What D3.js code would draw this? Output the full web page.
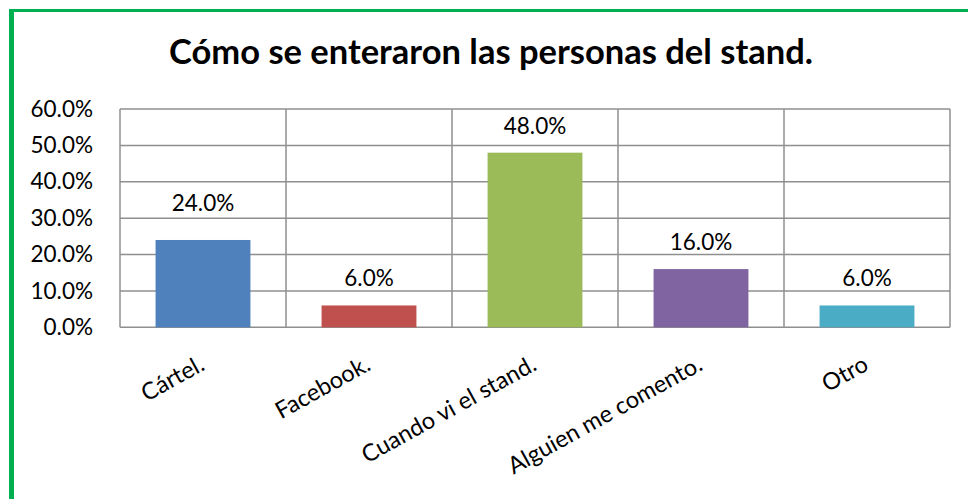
<!DOCTYPE html>
<html>
<head>
<meta charset="utf-8">
<script src="https://cdnjs.cloudflare.com/ajax/libs/d3/7.8.5/d3.min.js"></script>
<style>
  body { margin: 0; background: #fff; }
  #chart text { font-family: Lato, "Liberation Sans", sans-serif; fill: #000; }
</style>
</head>
<body>
<div id="chart"></div>
<script>
let categories = ["Cártel.", "Facebook.", "Cuando vi el stand.", "Alguien me comento.", "Otro"];
let values = [0.24, 0.06, 0.48, 0.16, 0.06];
let colors = ["#4F81BD", "#C0504D", "#9BBB59", "#8064A2", "#4BACC6"];
let yTicks = [0, 0.1, 0.2, 0.3, 0.4, 0.5, 0.6];
let title = "Cómo se enteraron las personas del stand.";

let W = 968, H = 499;
let plot = {left: 120, right: 950, top: 109, bottom: 327.3};

let svg = d3.select("#chart")
  .append("svg")
    .attr("width", W)
    .attr("height", H);

svg.append("rect")
    .attr("width", W)
    .attr("height", H)
    .attr("fill", "#fff");

// green frame (top + left only, the rest is cropped away)
svg.append("line")
    .attr("x1", 9).attr("x2", W)
    .attr("y1", 10.5).attr("y2", 10.5)
    .attr("stroke", "#00B050")
    .attr("stroke-width", 3);
svg.append("line")
    .attr("x1", 11.5).attr("x2", 11.5)
    .attr("y1", 9).attr("y2", H)
    .attr("stroke", "#00B050")
    .attr("stroke-width", 5);

svg.append("text")
    .attr("x", 491)
    .attr("y", 64)
    .attr("text-anchor", "middle")
    .attr("font-size", 34.5)
    .attr("font-weight", "bold")
    .text(title);

let x = d3.scaleBand()
    .domain(categories)
    .range([plot.left, plot.right])
    .paddingInner(0.4286)
    .paddingOuter(0.2143);

let y = d3.scaleLinear()
    .domain([0, 0.6])
    .range([plot.bottom, plot.top]);

let step = x.step();
let grid = svg.append("g").attr("stroke", "#8f8f8f").attr("stroke-width", 1.5);

grid.selectAll("line.h")
    .data(yTicks)
  .enter().append("line")
    .attr("class", "h")
    .attr("x1", plot.left).attr("x2", plot.right)
    .attr("y1", function(d) { return y(d); })
    .attr("y2", function(d) { return y(d); });

grid.selectAll("line.v")
    .data(categories)
  .enter().append("line")
    .attr("class", "v")
    .attr("x1", function(d) { return x(d) - step * 0.2143; })
    .attr("x2", function(d) { return x(d) - step * 0.2143; })
    .attr("y1", plot.top).attr("y2", plot.bottom);

grid.append("line")
    .attr("x1", plot.right).attr("x2", plot.right)
    .attr("y1", plot.top).attr("y2", plot.bottom);

// y axis labels
let yAxis = svg.append("g")
    .attr("transform", "translate(" + (plot.left - 27) + ",0)")
    .call(d3.axisLeft(y).tickValues(yTicks).tickFormat(d3.format(".1%")).tickSize(0).tickPadding(0));
yAxis.select(".domain").remove();
yAxis.selectAll("text")
    .attr("font-size", 22.5)
    .attr("font-family", "Lato, sans-serif")
    .attr("fill", "#000");

svg.selectAll("rect.bar")
    .data(values)
  .enter().append("rect")
    .attr("class", "bar")
    .attr("x", function(d, i) { return x(categories[i]); })
    .attr("y", function(d) { return y(d); })
    .attr("width", x.bandwidth())
    .attr("height", function(d) { return y(0) - y(d); })
    .attr("fill", function(d, i) { return colors[i]; });

// the first label sits a bit higher in the original
let labelLift = [29, 19, 19, 19, 19];
svg.selectAll("text.val")
    .data(values)
  .enter().append("text")
    .attr("class", "val")
    .attr("x", function(d, i) { return x(categories[i]) + x.bandwidth() / 2; })
    .attr("y", function(d, i) { return y(d) - labelLift[i]; })
    .attr("text-anchor", "middle")
    .attr("font-size", 22.5)
    .text(function(d) { return d3.format(".1%")(d); });

svg.selectAll("text.cat")
    .data(categories)
  .enter().append("text")
    .attr("class", "cat")
    .attr("text-anchor", "end")
    .attr("font-size", 23.5)
    .attr("transform", function(d) {
        return "translate(" + (x(d) + x.bandwidth() / 2 + 3) + ",369) rotate(-29)";
    })
    .text(function(d) { return d; });
</script>
</body>
</html>
